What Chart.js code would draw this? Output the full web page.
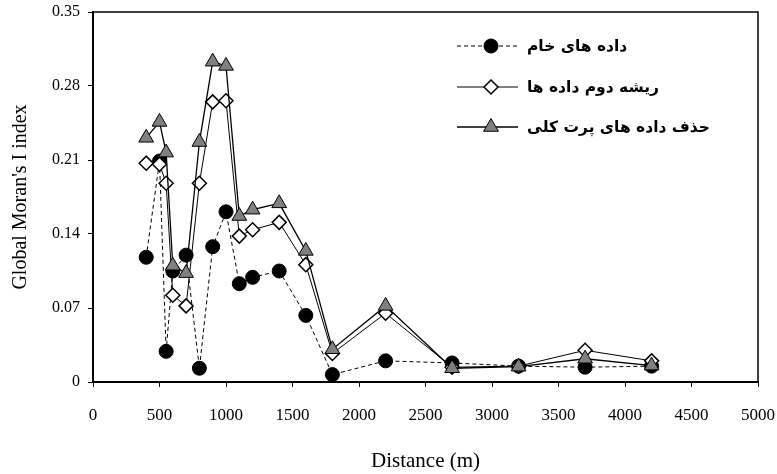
<!DOCTYPE html>
<html>
<head>
<meta charset="utf-8">
<script src="https://cdn.jsdelivr.net/npm/chart.js@4/dist/chart.umd.min.js"></script>
<style>
  html, body { margin: 0; padding: 0; background: #fff; }
  #wrap { width: 777px; height: 474px; position: relative; }
</style>
</head>
<body>
<div id="wrap"><canvas id="moranChart" width="777" height="474"></canvas></div>
<script>
// ---- data ----
const distances = [400, 500, 550, 600, 700, 800, 900, 1000, 1100, 1200, 1400, 1600, 1800, 2200, 2700, 3200, 3700, 4200];
const rawData     = [0.118, 0.209, 0.029, 0.105, 0.120, 0.013, 0.128, 0.161, 0.093, 0.099, 0.105, 0.063, 0.007, 0.020, 0.018, 0.015, 0.014, 0.015];
const sqrtData    = [0.207, 0.206, 0.188, 0.082, 0.072, 0.188, 0.265, 0.266, 0.138, 0.144, 0.151, 0.111, 0.027, 0.065, 0.014, 0.015, 0.030, 0.020];
const removedData = [0.231, 0.246, 0.217, 0.110, 0.103, 0.227, 0.303, 0.299, 0.157, 0.163, 0.169, 0.124, 0.031, 0.072, 0.013, 0.0145, 0.022, 0.0155];

const seriesNames = ["داده های خام", "ریشه دوم داده ها", "حذف داده های پرت کلی"];
const yTicks = [0, 0.07, 0.14, 0.21, 0.28, 0.35];
const yTickLabels = ["0", "0.07", "0.14", "0.21", "0.28", "0.35"];
const xTicks = [0, 500, 1000, 1500, 2000, 2500, 3000, 3500, 4000, 4500, 5000];
const xTickLabels = ["0", "500", "1000", "1500", "2000", "2500", "3000", "3500", "4000", "4500", "5000"];

const SERIF = "'Liberation Serif', 'Times New Roman', serif";

function toPoints(ys) {
  return distances.map((d, i) => ({ x: d, y: ys[i] }));
}

// frame round the plot + legend inside the plot area (line sample, marker, text)
const framePlugin = {
  id: "frame",
  afterDraw(chart) {
    const { ctx, chartArea: a } = chart;
    ctx.save();
    ctx.strokeStyle = "#000";
    ctx.lineWidth = 1.5;
    ctx.strokeRect(a.left, a.top, a.right - a.left, a.bottom - a.top);

    const rows = [46, 87, 127];
    ctx.font = "bold 15.5px 'DejaVu Sans', sans-serif";
    ctx.textBaseline = "middle";
    ctx.textAlign = "left";
    chart.data.datasets.forEach((ds, r) => {
      const y = rows[r];
      ctx.save();
      ctx.strokeStyle = "#000";
      ctx.lineWidth = ds.borderWidth;
      ctx.setLineDash(ds.borderDash || []);
      ctx.beginPath();
      ctx.moveTo(457, y);
      ctx.lineTo(518, y);
      ctx.stroke();
      ctx.setLineDash([]);
      ctx.fillStyle = ds.pointBackgroundColor;
      ctx.strokeStyle = ds.pointBorderColor;
      ctx.lineWidth = ds.pointBorderWidth;
      Chart.helpers.drawPoint(ctx, {
        pointStyle: ds.pointStyle,
        radius: ds.pointRadius,
        borderWidth: ds.pointBorderWidth,
        rotation: 0
      }, 491, y);
      ctx.restore();
      ctx.fillStyle = "#000";
      ctx.fillText(seriesNames[r], 527, y + 1);
    });
    ctx.restore();
  }
};

const cfg = {
  type: "line",
  data: {
    datasets: [
      {
        label: seriesNames[0],
        data: toPoints(rawData),
        borderColor: "#000",
        borderWidth: 1,
        borderDash: [4, 3],
        pointStyle: "circle",
        pointRadius: 7,
        pointBackgroundColor: "#000",
        pointBorderColor: "#000",
        pointBorderWidth: 1,
        order: 3
      },
      {
        label: seriesNames[1],
        data: toPoints(sqrtData),
        borderColor: "#000",
        borderWidth: 1,
        pointStyle: "rectRot",
        pointRadius: 7,
        pointBackgroundColor: "#fff",
        pointBorderColor: "#000",
        pointBorderWidth: 1.5,
        order: 2
      },
      {
        label: seriesNames[2],
        data: toPoints(removedData),
        borderColor: "#000",
        borderWidth: 1.3,
        pointStyle: "triangle",
        pointRadius: 8.5,
        pointBackgroundColor: "#808080",
        pointBorderColor: "#000",
        pointBorderWidth: 1,
        order: 1
      }
    ]
  },
  options: {
    responsive: false,
    animation: false,
    layout: { padding: { top: 12, right: 19, left: 0, bottom: 0 } },
    plugins: { legend: { display: false }, tooltip: { enabled: false } },
    elements: { line: { tension: 0 } },
    scales: {
      x: {
        type: "linear",
        min: 0,
        max: 5000,
        afterBuildTicks: s => { s.ticks = xTicks.map(v => ({ value: v })); },
        afterFit: s => { s.height = 92; s.paddingLeft = 0; s.paddingRight = 0; },
        grid: { drawOnChartArea: false, drawTicks: true, tickLength: 5, color: "#000", lineWidth: 1 },
        border: { display: true, color: "#000", width: 2 },
        ticks: {
          color: "#000",
          font: { family: SERIF, size: 17 },
          padding: 18,
          maxRotation: 0,
          autoSkip: false,
          callback: (v, i) => xTickLabels[i]
        },
        title: { display: true, text: "Distance (m)", color: "#000", font: { family: SERIF, size: 21 }, padding: { top: 10, bottom: 0 } }
      },
      y: {
        type: "linear",
        min: 0,
        max: 0.35,
        afterBuildTicks: s => { s.ticks = yTicks.map(v => ({ value: v })); },
        afterFit: s => { s.width = 93; s.paddingTop = 0; s.paddingBottom = 0; },
        grid: { drawOnChartArea: false, drawTicks: true, tickLength: 5, color: "#000", lineWidth: 1 },
        border: { display: true, color: "#000", width: 2 },
        ticks: {
          color: "#000",
          font: { family: SERIF, size: 16 },
          padding: 8,
          callback: (v, i) => yTickLabels[i]
        },
        title: { display: true, text: "Global Moran's I index", color: "#000", font: { family: SERIF, size: 20 }, padding: { top: 9, bottom: 0 } }
      }
    }
  },
  plugins: [framePlugin]
};

new Chart(document.getElementById("moranChart"), cfg);
</script>
</body>
</html>
